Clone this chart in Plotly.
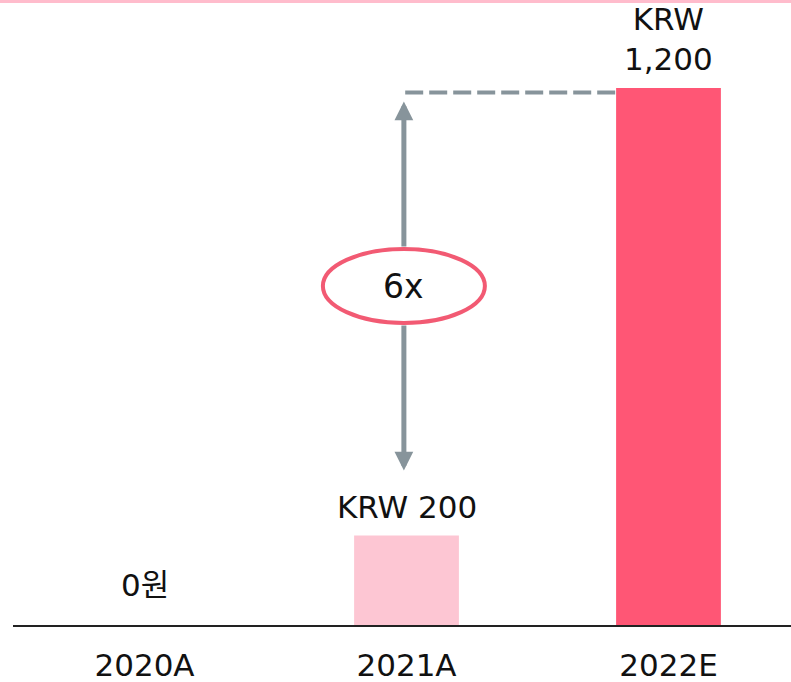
import plotly.graph_objects as go

categories = ["2020A", "2021A", "2022E"]
values = [0, 200, 1200]
bar_labels = ["0원", "KRW 200", "KRW<br>1,200"]
bar_colors = ["#fdc6d3", "#fdc6d3", "#ff5675"]
multiple_label = "6x"

W, H = 791, 682
ML, MR, MT, MB = 13, 0, 0, 57
YMAX = 1396.6
XMIN, XMAX = -0.502, 2.4676

FONT = "'DejaVu Sans', 'Noto Sans CJK KR', sans-serif"
GRAY = "#87949b"
RED = "#f25a73"
FS = 31

fig = go.Figure()
fig.add_trace(go.Bar(
    x=list(range(len(categories))), y=values,
    marker=dict(color=bar_colors, line=dict(width=0)),
    width=0.4, hoverinfo="skip", showlegend=False,
))

# value labels
fig.add_annotation(x=0, y=values[0], text=bar_labels[0], showarrow=False,
                   yanchor="middle", yshift=40, font=dict(size=FS, color="#111"))
fig.add_annotation(x=1, y=values[1], text=bar_labels[1], showarrow=False,
                   yanchor="middle", yshift=29, font=dict(size=FS, color="#111"))
fig.add_annotation(x=2, y=values[2], text=bar_labels[2], showarrow=False,
                   yanchor="middle", yshift=49, font=dict(size=FS, color="#111"))

# dashed reference line from 2021A to the 2022E bar
fig.add_shape(type="line", xref="x", yref="y", x0=0.995, x1=2 - 0.2,
              y0=values[2] - 10, y1=values[2] - 10,
              line=dict(color=GRAY, width=4, dash="18px,6px"))

# ellipse with multiple
mid = (values[1] + 145 + values[2] - 30) / 2
fig.add_shape(type="circle", xref="x", yref="y", xsizemode="pixel", ysizemode="pixel",
              xanchor=0.99, yanchor=mid, x0=-81, x1=81, y0=-37, y1=37,
              line=dict(color=RED, width=4), fillcolor="white")
fig.add_annotation(x=0.99, y=mid, text=multiple_label, showarrow=False,
                   font=dict(size=33, color="#111"))

# arrows
half = 38 / (625 / YMAX)
fig.add_annotation(x=0.99, y=values[2] - 30, ax=0.99, ay=mid + half,
                   axref="x", ayref="y", xref="x", yref="y", text="", showarrow=True,
                   arrowhead=2, arrowsize=0.75, arrowwidth=5, arrowcolor=GRAY)
fig.add_annotation(x=0.99, y=values[1] + 145, ax=0.99, ay=mid - half,
                   axref="x", ayref="y", xref="x", yref="y", text="", showarrow=True,
                   arrowhead=2, arrowsize=0.75, arrowwidth=5, arrowcolor=GRAY)

# top pink rule
fig.add_shape(type="line", xref="paper", yref="paper", x0=-0.02, x1=1.01, y0=1, y1=1,
              line=dict(color="#ffbccc", width=6))

fig.update_layout(
    width=W, height=H, margin=dict(l=ML, r=MR, t=MT, b=MB, autoexpand=False),
    paper_bgcolor="white", plot_bgcolor="white",
    font=dict(family=FONT, color="#111"),
    bargap=0.6,
    xaxis=dict(range=[XMIN, XMAX], tickvals=list(range(len(categories))), ticktext=categories,
               showgrid=False, zeroline=False, showline=True, linecolor="#222", linewidth=2,
               ticks="", tickfont=dict(size=FS, color="#111"), ticklabelstandoff=12,
               automargin=False, fixedrange=True),
    yaxis=dict(range=[0, YMAX], visible=False, fixedrange=True),
    showlegend=False,
)

fig.write_html("out.html", config={"displayModeBar": False})
